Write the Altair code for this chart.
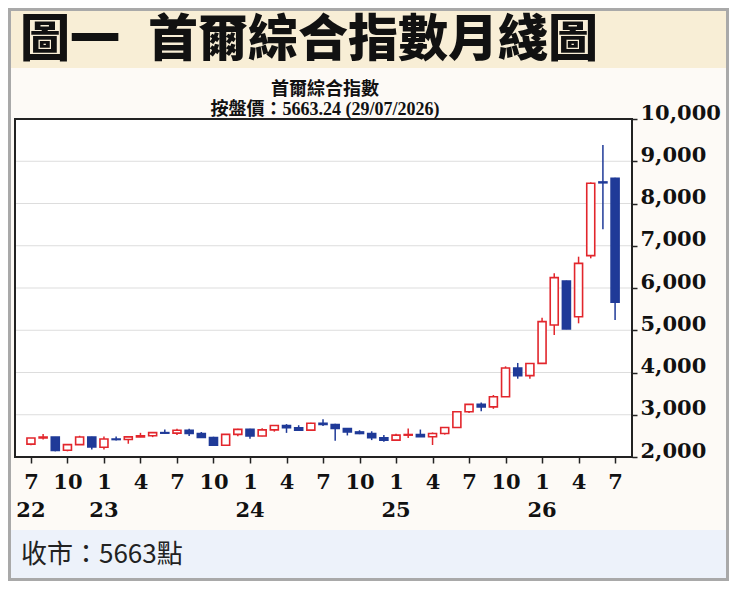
import altair as alt
import pandas as pd

# Monthly candles, Jul 2022 .. Jul 2026 (index 0 = Jul 2022)
opens = [2305, 2452, 2470, 2160, 2293, 2475, 2230, 2425, 2413, 2477, 2502, 2577,
         2565, 2632, 2557, 2463, 2277, 2535, 2655, 2497, 2642, 2747, 2692, 2636,
         2798, 2770, 2674, 2593, 2556, 2456, 2399, 2517, 2532, 2481, 2556, 2697,
         3071, 3245, 3186, 3425, 4107, 3926, 4217, 5124, 6166, 5320, 6767, 8510,
         8596]
highs = [2452, 2546, 2475, 2302, 2503, 2478, 2485, 2485, 2480, 2572, 2590, 2651,
         2670, 2668, 2592, 2480, 2541, 2670, 2670, 2680, 2757, 2779, 2752, 2808,
         2896, 2788, 2681, 2633, 2609, 2520, 2550, 2673, 2650, 2580, 2698, 3090,
         3254, 3290, 3467, 4146, 4226, 4226, 5297, 6348, 6175, 6741, 8500, 9385,
         8610]
lows = [2276, 2412, 2134, 2134, 2290, 2180, 2180, 2390, 2314, 2470, 2470, 2550,
        2520, 2499, 2462, 2273, 2270, 2490, 2430, 2490, 2600, 2571, 2628, 2631,
        2735, 2386, 2510, 2540, 2400, 2360, 2397, 2450, 2480, 2284, 2530, 2690,
        3040, 3080, 3140, 3420, 3853, 3850, 4200, 4888, 5025, 5164, 6702, 7391,
        5243]
closes = [2451, 2472, 2155, 2293, 2473, 2236, 2425, 2413, 2477, 2501, 2577, 2564,
          2632, 2556, 2465, 2277, 2535, 2655, 2497, 2642, 2747, 2692, 2636, 2798,
          2770, 2674, 2593, 2556, 2456, 2399, 2517, 2532, 2481, 2556, 2697, 3071,
          3245, 3186, 3425, 4107, 3926, 4214, 5203, 6245, 5030, 6584, 8478, 8490,
          5663]

year_idx = [0, 6, 18, 30, 42]
year_txt = ["22", "23", "24", "25", "26"]
y_ticks = [2000, 3000, 4000, 5000, 6000, 7000, 8000, 9000, 10000]
grid_vals = [3000, 4000, 5000, 6000, 7000, 8000, 9000]
x_ticks = list(range(0, 49, 3))

title_a = "圖一"
title_b = "首爾綜合指數月綫圖"
sub1 = "首爾綜合指數"
sub2 = "按盤價：5663.24 (29/07/2026)"
footer = "收市：5663點"

RED = "#e2262c"
BLUE = "#1f3a98"
SERIF = "DejaVu Serif"
CJK = "Noto Sans CJK TC"

df = pd.DataFrame({
    "i": list(range(len(opens))),
    "open": opens, "high": highs, "low": lows, "close": closes,
})
df["dir"] = ["up" if c >= o else "down" for o, c in zip(opens, closes)]

W, H = 617, 338

xscale = alt.Scale(domain=[-1.31, 49.39], nice=False, zero=False, padding=0)
yscale = alt.Scale(domain=[2000, 10000], nice=False, zero=False, padding=0)
xaxis = alt.Axis(values=x_ticks, labelExpr="'' + ((datum.value + 6) % 12 + 1)",
                 title=None, grid=False, domain=False, tickSize=6, tickColor="#222",
                 tickWidth=1.5, labelFont=SERIF, labelFontWeight="bold",
                 labelFontSize=21, labelColor="#111", labelPadding=8,
                 labelOverlap=False, labelFlush=False, zindex=2)
yaxis = alt.Axis(orient="right", values=y_ticks,
                 labelExpr="format(datum.value, ',.0f')", title=None, grid=False,
                 domain=False, tickSize=5, tickColor="#222", tickWidth=1.5,
                 labelFont=SERIF, labelFontWeight="bold", labelFontSize=21,
                 labelColor="#111", labelPadding=3, labelBaseline="alphabetic",
                 labelAlign="left", labelOverlap=False, labelFlush=False, zindex=2)

one = pd.DataFrame({"a": [0]})

def band(x1, x2, y1, y2, color):
    return alt.Chart(one).mark_rect(color=color).encode(
        x=alt.value(x1), x2=alt.value(x2), y=alt.value(y1), y2=alt.value(y2))

beige = band(-4, 711, -108, -51, "#f8eed6")
cream = band(-4, 711, -51, 411, "#fdfaf6")
foot = band(-4, 711, 411, 459, "#edf2fa")
plotbg = band(0, W, 0, H, "#ffffff")
border = alt.Chart(one).mark_rect(fillOpacity=0, stroke="#a9a9a9", strokeWidth=3).encode(
    x=alt.value(-5.5), x2=alt.value(712.5), y=alt.value(-109.5), y2=alt.value(460.5))

grid = alt.Chart(pd.DataFrame({"v": grid_vals})).mark_rule(
    color="#dddddd", strokeWidth=1).encode(
    y=alt.Y("v:Q", scale=yscale, axis=yaxis))

dir_color = alt.Scale(domain=["up", "down"], range=[RED, BLUE])
wick = alt.Chart(df).mark_rule(strokeWidth=1.5).encode(
    x=alt.X("i:Q", scale=xscale, axis=xaxis),
    y=alt.Y("low:Q", scale=yscale, axis=yaxis),
    y2="high:Q",
    color=alt.Color("dir:N", scale=dir_color, legend=None),
)
body = alt.Chart(df).mark_bar(size=8, strokeWidth=1.6).encode(
    x=alt.X("i:Q", scale=xscale, axis=xaxis),
    y=alt.Y("open:Q", scale=yscale, axis=yaxis),
    y2="close:Q",
    fill=alt.Fill("dir:N", scale=alt.Scale(domain=["up", "down"], range=["#ffffff", BLUE]), legend=None),
    stroke=alt.Stroke("dir:N", scale=dir_color, legend=None),
)

years = alt.Chart(pd.DataFrame({"i": year_idx, "t": year_txt})).mark_text(
    font=SERIF, fontWeight="bold", fontSize=21, color="#111",
    baseline="alphabetic", align="center").encode(
    x=alt.X("i:Q", scale=xscale, axis=xaxis), y=alt.value(398), text="t:N")

frame = alt.Chart(one).mark_rect(fillOpacity=0, stroke="#222", strokeWidth=2).encode(
    x=alt.value(0), x2=alt.value(W), y=alt.value(0), y2=alt.value(H))

def label(txt, x, y, size, font, weight="normal", align="left", color="#111"):
    return alt.Chart(pd.DataFrame({"t": [txt]})).mark_text(
        font=font, fontSize=size, fontWeight=weight, align=align,
        baseline="alphabetic", color=color).encode(
        x=alt.value(x), y=alt.value(y), text="t:N")

t1 = label(title_a, 5, -63, 50, CJK, 900)
t2 = label(title_b, 133, -63, 50, CJK, 900)
s1 = label(sub1, 310, -24, 18, CJK, "bold", "center")
s2 = label(sub2, 310, -4, 18, "'Liberation Serif', 'Noto Sans CJK TC'", "bold", "center")
f1 = label(footer, 6, 444, 26, CJK, "normal", "left", "#222")

chart = alt.layer(
    beige, cream, foot, border, plotbg, grid, wick, body, years, frame,
    t1, t2, s1, s2, f1
).properties(
    width=W, height=H,
    autosize=alt.AutoSizeParams(type="none"),
    padding={"left": 7, "top": 111, "right": 97, "bottom": 127},
).configure(background="#ffffff").configure_view(strokeWidth=0)

chart.save("out.html", embed_options={"renderer": "svg", "actions": False})
